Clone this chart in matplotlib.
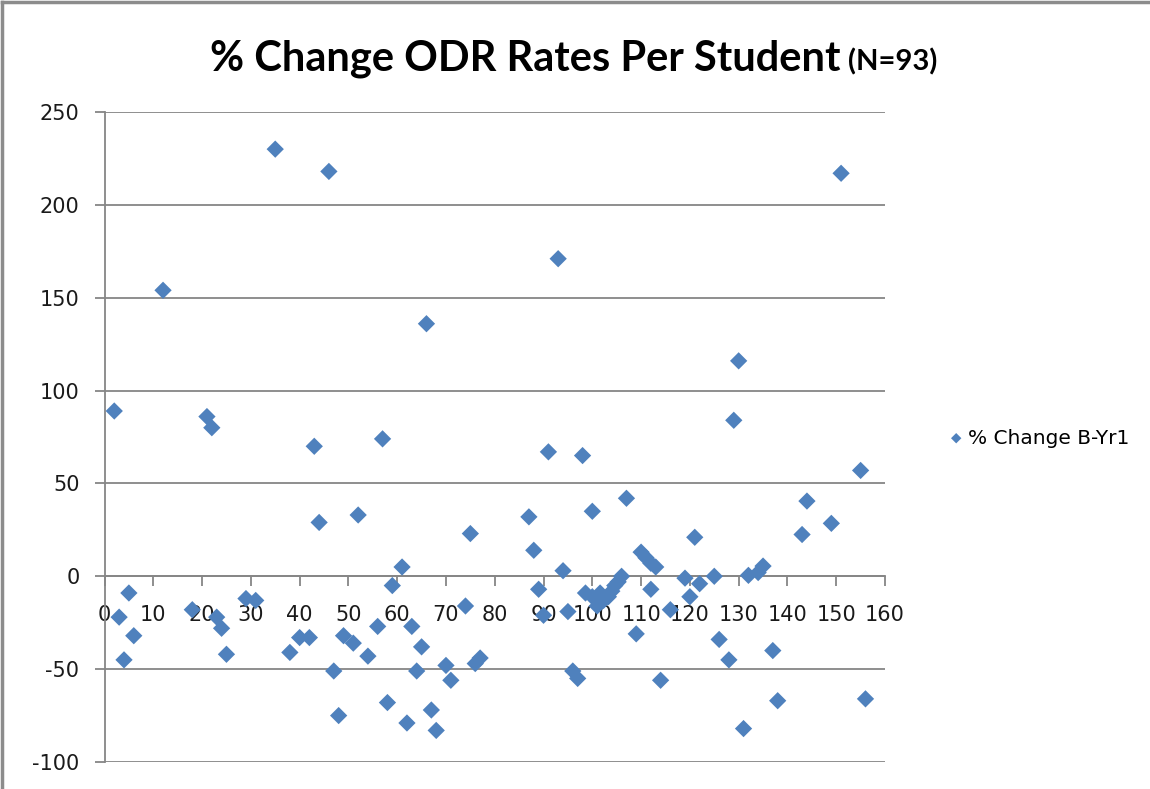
import matplotlib
matplotlib.use("Agg")
import matplotlib.pyplot as plt
from matplotlib.lines import Line2D

plt.rcParams["axes.unicode_minus"] = False

# % change per school
x_vals = [2, 3, 4, 5, 6, 12, 18, 21, 22, 23, 24, 25, 29, 31, 35, 38, 40, 42, 43, 44,
          46, 47, 48, 49, 51, 52, 54, 56, 57, 58, 59, 61, 62, 63, 64, 65, 66, 67, 68, 70,
          71, 74, 75, 76, 77, 87, 88, 89, 90, 91, 93, 94, 95, 96, 97, 98, 98.6, 100, 100, 101,
          101.6, 102.3, 103.3, 104, 104.6, 105.3, 106, 107, 109, 110, 111, 112, 112, 113, 114,
          116, 119, 120, 121, 122, 125, 126, 128, 129, 130, 131, 132, 134, 135, 137, 138,
          143, 144, 149, 151, 155, 156]
y_vals = [89, -22, -45, -9, -32, 154, -18, 86, 80, -22, -28, -42, -12, -13, 230, -41, -33, -33, 70, 29,
          218, -51, -75, -32, -36, 33, -43, -27, 74, -68, -5, 5, -79, -27, -51, -38, 136, -72, -83, -48,
          -56, -16, 23, -47, -44, 32, 14, -7, -21, 67, 171, 3, -19, -51, -55, 65, -9, 35, -11, -16,
          -9, -13, -11, -8, -5, -3, 0, 42, -31, 13, 10, 7, -7, 5, -56,
          -18, -1, -11, 21, -4, 0, -34, -45, 84, 116, -82, 0.5, 2, 5.5, -40, -67,
          22.5, 40.5, 28.5, 217, 57, -66]

x_ticks = list(range(0, 161, 10))
y_ticks = [-100, -50, 0, 50, 100, 150, 200, 250]

series_name = "% Change B-Yr1"
title_main = "% Change ODR Rates Per Student"
title_n = "(N=93)"

grey = "#868686"
blue = "#4F81BD"

fig = plt.figure(figsize=(11.5, 7.89), dpi=100)
ax = fig.add_axes([104.5 / 1150, 27 / 789, (885 - 104.5) / 1150, (762 - 112) / 789])

ax.scatter(x_vals, y_vals, marker="D", s=8.8 ** 2, color=blue, edgecolors="none",
           zorder=5, label=series_name, clip_on=False)

ax.set_xlim(0, 160)
ax.set_ylim(-100, 250)
ax.set_xticks(x_ticks)
ax.set_yticks(y_ticks)

ax.yaxis.grid(True, color=grey, lw=1.3)
ax.set_axisbelow(True)

for s in ["top", "right"]:
    ax.spines[s].set_visible(False)
ax.spines["left"].set_color(grey)
ax.spines["left"].set_linewidth(1.3)
ax.spines["bottom"].set_position(("data", 0))
ax.spines["bottom"].set_color(grey)
ax.spines["bottom"].set_linewidth(1.3)

ax.tick_params(axis="x", direction="out", length=7, width=1.3, color=grey, pad=14,
               labelsize=15, labelcolor="#1a1a1a")
ax.tick_params(axis="y", direction="out", length=7, width=1.3, color=grey, pad=11,
               labelsize=15, labelcolor="#1a1a1a")

# title in two sizes
fig.text(840 / 1150, 1 - 70 / 789, title_main, ha="right", va="baseline",
         fontsize=30, fontweight="bold", family="Lato")
fig.text(848 / 1150, 1 - 70 / 789, title_n, ha="left", va="baseline",
         fontsize=21, fontweight="bold", family="Lato")

fig.legend(loc="center left", bbox_to_anchor=(928 / 1150, 1 - 438 / 789), frameon=False,
           fontsize=14.5, handletextpad=0.1, markerscale=0.6, handlelength=1.0)

# chart area border (left and top only visible)
fig.add_artist(Line2D([0.002, 0.002], [0, 0.997], color="#8c8c8c", lw=2.5))
fig.add_artist(Line2D([0.002, 1], [0.997, 0.997], color="#8c8c8c", lw=2.5))

fig.savefig("out.png", dpi=100)
